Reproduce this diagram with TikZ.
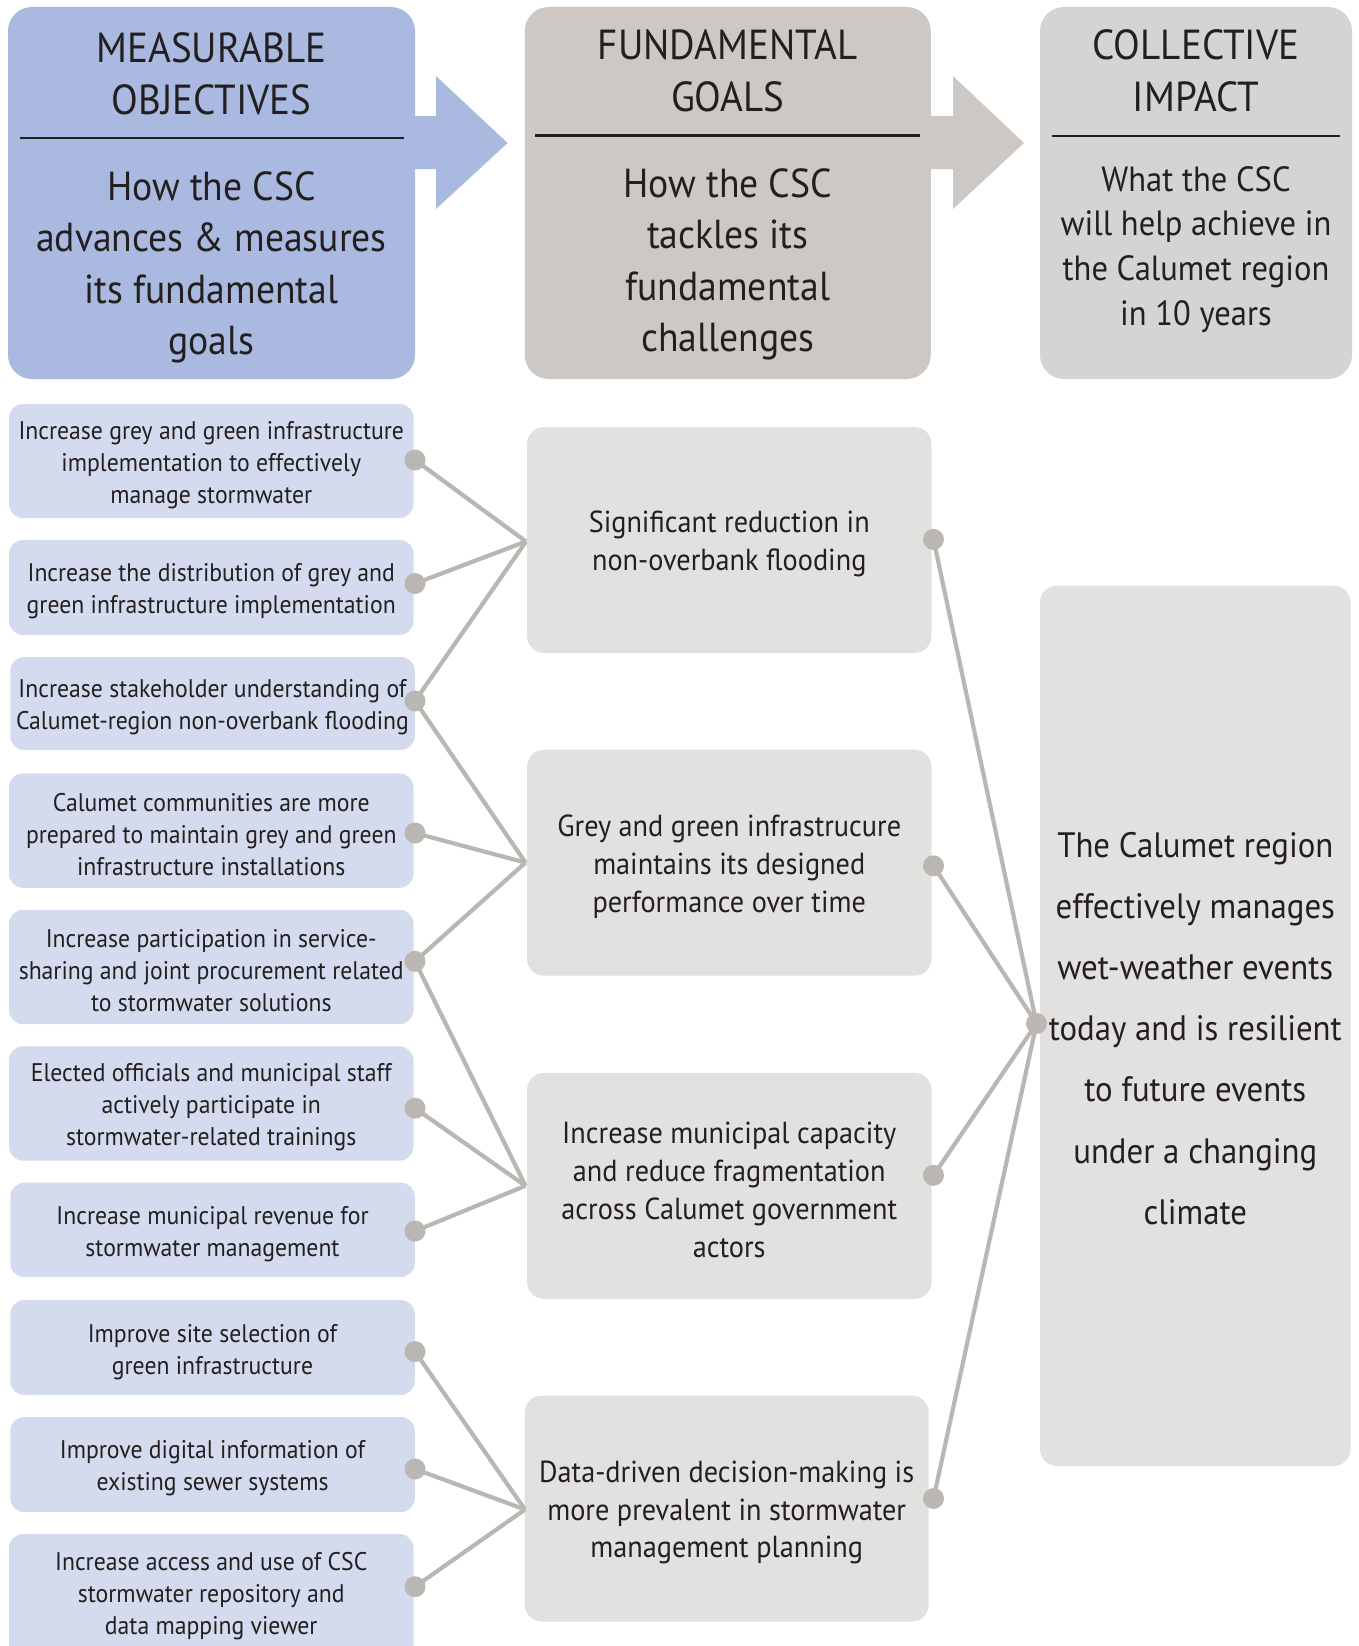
\documentclass[tikz,border=0pt]{standalone}
\usepackage{fontspec}
\setmainfont{PT Sans}[FakeStretch=0.93]
\definecolor{hblue}{RGB}{170,185,223}
\definecolor{lblue}{RGB}{212,219,238}
\definecolor{hgrey}{RGB}{205,200,196}
\definecolor{hgrey2}{RGB}{212,212,214}
\definecolor{mgrey}{RGB}{226,225,224}
\definecolor{lnc}{RGB}{186,182,178}
\definecolor{txc}{RGB}{35,31,32}
\newcommand\myfs[2]{\fontsize{#1}{#2}\selectfont}
\begin{document}
\begin{tikzpicture}[x=1pt,y=-1pt,
  hdrbox/.style={rounded corners=24pt,inner sep=0pt,minimum height=372pt},
  htext/.style={align=center,text=txc,inner sep=0pt,font=\myfs{42}{51.5}},
  hbody/.style={align=center,text=txc,inner sep=0pt,font=\myfs{40.5}{51.5}},
  sbox/.style={fill=lblue,rounded corners=14pt,inner sep=0pt,minimum width=404.5pt,align=center,text=txc,font=\myfs{25.5}{32}},
  stext/.style={align=center,text=txc,inner sep=0pt,font=\myfs{25.5}{32}},
  mbox/.style={fill=mgrey,rounded corners=17pt,inner sep=0pt,minimum width=404.5pt,minimum height=226pt},
  mtext/.style={align=center,text=txc,inner sep=0pt,font=\myfs{30.4}{37.8}},
  conn/.style={draw=lnc,line width=4.2pt},
  dotn/.style={circle,fill=lnc,inner sep=0pt,minimum size=21pt},
  sepline/.style={draw=txc,line width=2.4pt}]
\useasboundingbox (0,0) rectangle (1359,1646);
\clip (0,0) rectangle (1359,1646);

% header boxes
\node[hdrbox,fill=hblue,minimum width=407pt] (hb1) at (211.5,193) {};
\node[hdrbox,fill=hgrey,minimum width=406pt] (hb2) at (727.75,193) {};
\node[hdrbox,fill=hgrey2,minimum width=312pt] (hb3) at (1196,193) {};

% arrows
\fill[hblue] (410,116) -- (436,116) -- (436,76) -- (507.6,143) -- (436,209) -- (436,169) -- (410,169) -- cycle;
\fill[hgrey] (926,116) -- (953,116) -- (953,76) -- (1024,143) -- (953,209) -- (953,169) -- (926,169) -- cycle;

% separators
\draw[sepline] (20,138) -- (404,138);
\draw[sepline] (535,135.5) -- (920,135.5);
\draw[sepline] (1051.5,136) -- (1340,136);

% header texts
\node[htext] (t1) at (211.5,74) {MEASURABLE\\OBJECTIVES};
\node[hbody] (b1) at (211.5,267.5) {How the CSC\\advances \& measures\\its fundamental\\goals};
\node[htext] (t2) at (727.75,71) {FUNDAMENTAL\\GOALS};
\node[hbody] (b2) at (727.75,264.5) {How the CSC\\tackles its\\fundamental\\challenges};
\node[htext] (t3) at (1196,71) {COLLECTIVE\\IMPACT};
\node[align=center,text=txc,inner sep=0pt,font=\myfs{35}{44.8}] (b3) at (1196,249.5) {What the CSC\\will help achieve in\\the Calumet region\\in 10 years};

% measurable objectives: boxes
\node[sbox,minimum height=114pt] (o1) at (211.25,461) {};
\node[sbox,minimum height=95pt] (o2) at (211.25,587.5) {};
\node[sbox,minimum height=93pt] (o3) at (212.5,703.5) {};
\node[sbox,minimum height=114.4pt] (o4) at (211.25,830.6) {};
\node[sbox,minimum height=114.4pt] (o5) at (211.25,967) {};
\node[sbox,minimum height=114.3pt] (o6) at (211.25,1103.5) {};
\node[sbox,minimum height=94.4pt] (o7) at (212.5,1229.9) {};
\node[sbox,minimum height=95pt] (o8) at (212.5,1347.5) {};
\node[sbox,minimum height=95pt] (o9) at (212.5,1464.5) {};
\fill[lblue,rounded corners=14pt] (9,1534) rectangle (413.5,1700);
% measurable objectives: texts
\node[stext] (s1) at (211.25,465) {Increase grey and green infrastructure\\implementation to effectively\\manage stormwater};
\node[stext] (s2) at (211.25,591.5) {Increase the distribution of grey and\\green infrastructure implementation};
\node[stext] (s3) at (212.5,707.5) {Increase stakeholder understanding of\\Calumet-region non-overbank flooding};
\node[stext] (s4) at (211.25,834.6) {Calumet communities are more\\prepared to maintain grey and green\\infrastructure installations};
\node[stext] (s5) at (211.25,971) {Increase participation in service-\\sharing and joint procurement related\\to stormwater solutions};
\node[stext] (s6) at (211.25,1107.5) {Elected officials and municipal staff\\actively participate in\\stormwater-related trainings};
\node[stext] (s7) at (212.5,1233.9) {Increase municipal revenue for\\stormwater management};
\node[stext] (s8) at (212.5,1352) {Improve site selection of\\green infrastructure};
\node[stext] (s9) at (212.5,1468.5) {Improve digital information of\\existing sewer systems};
\node[stext] (s10) at (211.25,1596.5) {Increase access and use of CSC\\stormwater repository and\\data mapping viewer};

% fundamental goals
\node[mbox] (gA) at (729.25,540) {};
\node[mbox] (gB) at (729.25,862.7) {};
\node[mbox] (gC) at (729.25,1185.9) {};
\node[mbox,minimum width=404pt] (gD) at (726.7,1508.5) {};
\node[mtext] (fA) at (729.25,544) {Significant reduction in\\non-overbank flooding};
\node[mtext] (fB) at (729.25,866.7) {Grey and green infrastrucure\\maintains its designed\\performance over time};
\node[mtext] (fC) at (729.25,1189.9) {Increase municipal capacity\\and reduce fragmentation\\across Calumet government\\actors};
\node[mtext] (fD) at (726.7,1512.5) {Data-driven decision-making is\\more prevalent in stormwater\\management planning};

% collective impact
\node[fill=mgrey,rounded corners=17pt,inner sep=0pt,minimum width=310.6pt,minimum height=880.4pt] (ci) at (1195.3,1025.8) {};
\node[align=center,text=txc,inner sep=0pt,font=\myfs{35.3}{61.2}] (cit) at (1195.3,1028.4) {The Calumet region\\effectively manages\\wet-weather events\\today and is resilient\\to future events\\under a changing\\climate};

% connector coordinates
\coordinate (d1) at (415,460);
\coordinate (d2) at (415,583.5);
\coordinate (d3) at (415,701);
\coordinate (d4) at (415,833);
\coordinate (d5) at (415,961.3);
\coordinate (d6) at (415,1108.2);
\coordinate (d7) at (415,1231);
\coordinate (d8) at (415,1351.6);
\coordinate (d9) at (415,1469);
\coordinate (d10) at (415,1586.7);
\coordinate (jA) at (526,541.5);
\coordinate (jB) at (525.5,862.6);
\coordinate (jC) at (525.5,1185.8);
\coordinate (jD) at (525,1509.5);
\coordinate (mA) at (933.5,539.4);
\coordinate (mB) at (933.5,865.8);
\coordinate (mC) at (933.5,1175.3);
\coordinate (mD) at (933.5,1498.5);
\coordinate (rj) at (1036.5,1023.5);

% connectors
\draw[conn] (d1) -- (jA);
\draw[conn] (d2) -- (jA);
\draw[conn] (d3) -- (jA);
\draw[conn] (d3) -- (jB);
\draw[conn] (d4) -- (jB);
\draw[conn] (d5) -- (jB);
\draw[conn] (d5) -- (jC);
\draw[conn] (d6) -- (jC);
\draw[conn] (d7) -- (jC);
\draw[conn] (d8) -- (jD);
\draw[conn] (d9) -- (jD);
\draw[conn] (d10) -- (jD);
\draw[conn] (mA) -- (rj);
\draw[conn] (mB) -- (rj);
\draw[conn] (mC) -- (rj);
\draw[conn] (mD) -- (rj);

% dots
\foreach \p in {d1,d2,d3,d4,d5,d6,d7,d8,d9,d10,mA,mB,mC,mD,rj}
  \node[dotn] (dot\p) at (\p) {};
\end{tikzpicture}
\end{document}
